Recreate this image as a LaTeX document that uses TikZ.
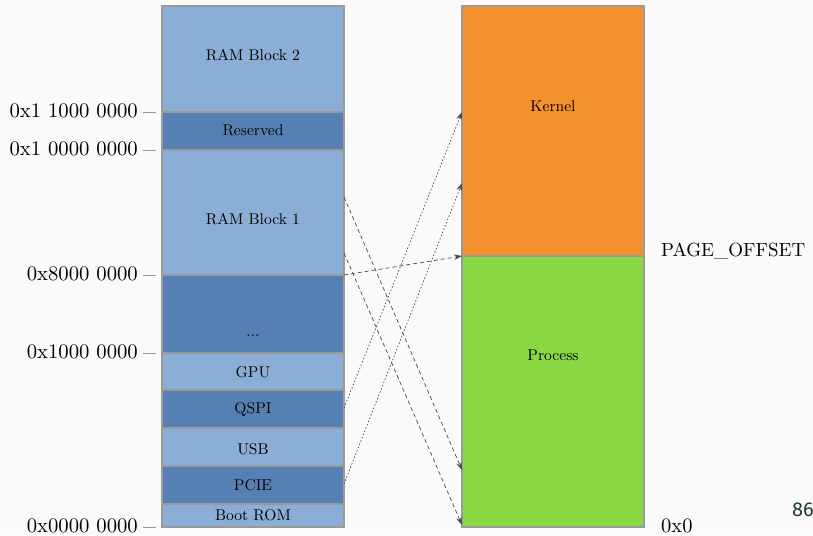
\documentclass[tikz,border=0pt]{standalone}
\usepackage{fontspec}
\newfontfamily\pagenumfont{Fira Sans}
% text face at 10pt design size, scaled up
\newfontfamily\labelfont{lmroman10-regular}[Extension=.otf]
\usetikzlibrary{arrows.meta,calc}

\definecolor{slidebg}{HTML}{FAFAFA}
\definecolor{memlight}{HTML}{8AAED6}
\definecolor{memdark}{HTML}{5680B3}
\definecolor{kernelcol}{HTML}{F4912F}
\definecolor{processcol}{HTML}{8AD944}
\definecolor{edgegrey}{HTML}{9A9A9A}
\definecolor{linkgrey}{HTML}{4A4A4A}
\definecolor{pagenum}{HTML}{23373B}

\tikzset{
  region/.style={draw=edgegrey, line width=1.2pt, minimum width=182pt,
    inner sep=0pt, outer sep=0pt, anchor=north west},
  light/.style={region, fill=memlight},
  darkreg/.style={region, fill=memdark},
  boxtext/.style={font=\labelfont\fontsize{15.6}{18}\selectfont, inner sep=0pt},
  addr/.style={font=\labelfont\fontsize{20.7}{24}\selectfont, inner sep=0pt, anchor=east},
  tick/.style={draw=edgegrey, line width=1pt},
  maplink/.style={draw=linkgrey, line width=0.7pt, dash pattern=on 4pt off 3pt,
    -{Stealth[length=8pt,width=5.5pt]}},
  maplinkdot/.style={draw=linkgrey, line width=0.7pt, dash pattern=on 1.5pt off 2pt,
    -{Stealth[length=8pt,width=5.5pt]}},
}

\begin{document}
\begin{tikzpicture}[x=1pt,y=-1pt]
  \fill[slidebg] (0,0) rectangle (813,535);
  \useasboundingbox (0,0) rectangle (813,535);

  % physical memory map
  \node[light,   minimum height=106pt] (ram2)     at (162,6)   {};
  \node[darkreg, minimum height=38pt]  (reserved) at (162,112) {};
  \node[light,   minimum height=125pt] (ram1)     at (162,150) {};
  \node[darkreg, minimum height=78pt]  (dots)     at (162,275) {};
  \node[light,   minimum height=37pt]  (gpu)      at (162,353) {};
  \node[darkreg, minimum height=38pt]  (qspi)     at (162,390) {};
  \node[light,   minimum height=38pt]  (usb)      at (162,428) {};
  \node[darkreg, minimum height=38pt]  (pcie)     at (162,466) {};
  \node[light,   minimum height=23pt]  (bootrom)  at (162,504) {};

  \node[boxtext] (t-ram2)     at (253,55)  {RAM Block 2};
  \node[boxtext] (t-reserved) at (253,130) {Reserved};
  \node[boxtext] (t-ram1)     at (253,219) {RAM Block 1};
  \node[boxtext] (t-dots)     at (253,336) {...};
  \node[boxtext] (t-gpu)      at (253,372) {GPU};
  \node[boxtext] (t-qspi)     at (253,410) {QSPI};
  \node[boxtext] (t-usb)      at (253,449) {USB};
  \node[boxtext] (t-pcie)     at (253,485) {PCIE};
  \node[boxtext] (t-bootrom)  at (253,515) {Boot ROM};

  % virtual address space
  \node[region, fill=kernelcol,  minimum height=250pt] (kernel)  at (462,6)   {};
  \node[region, fill=processcol, minimum height=271pt] (process) at (462,256) {};
  \node[boxtext] (t-kernel)  at (553,106) {Kernel};
  \node[boxtext] (t-process) at (553,355) {Process};

  % address ticks and labels
  \foreach \reg/\txt/\nm in {ram2/0x1 1000 0000/a1, reserved/0x1 0000 0000/a2,
      ram1/0x8000 0000/a3, dots/0x1000 0000/a4, bootrom/0x0000 0000/a5} {
    \coordinate (\nm-r) at ([xshift=-6pt]\reg.south west);
    \coordinate (\nm-l) at ([xshift=-19pt]\reg.south west);
    \draw[tick] (\nm-l) -- (\nm-r);
    \node[addr] (\nm) at ([xshift=-5pt,yshift=1pt]\nm-l) {\txt};
  }

  \node[font=\labelfont\fontsize{19}{23}\selectfont, inner sep=0pt, anchor=west]
    (pageoffset) at (661,251) {PAGE\_OFFSET};
  \node[font=\labelfont\fontsize{20.5}{23}\selectfont, inner sep=0pt, anchor=west]
    (zero) at (661,526) {0x0};

  % mappings
  \draw[maplink] (ram1.east |- 0,197) -- (process.west |- 0,470);
  \draw[maplink] (ram1.east |- 0,253) -- (process.west |- 0,525);
  \draw[maplink] (dots.north east) -- (kernel.south west);
  \draw[maplinkdot] (qspi.east |- 0,408) -- (kernel.west |- 0,112);
  \draw[maplinkdot] (pcie.east |- 0,484) -- (kernel.west |- 0,183);

  % slide number
  \node[font=\pagenumfont\fontsize{20}{24}\selectfont, text=pagenum,
    inner sep=0pt, anchor=west] (slidenum) at (792,510) {86};
\end{tikzpicture}
\end{document}
